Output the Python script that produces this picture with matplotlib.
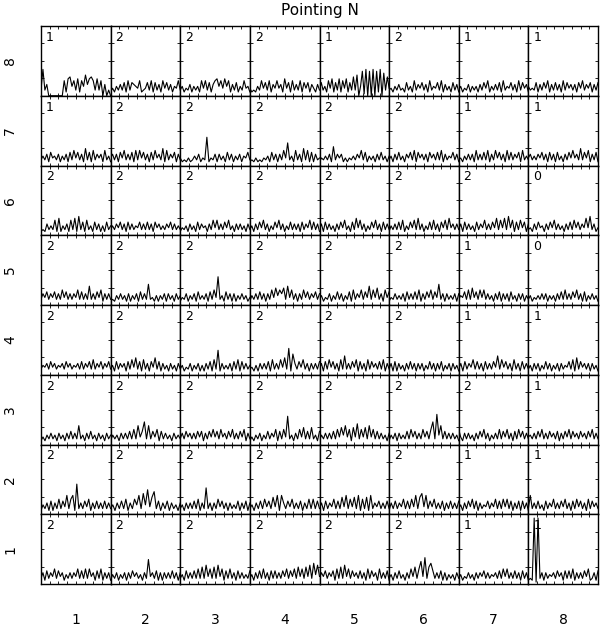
import numpy as np
import matplotlib
matplotlib.use("Agg")
import matplotlib.pyplot as plt

# spectrum heights per cell, one base-36 char per channel (rows listed top = 8 to bottom = 1)
row8 = ["3e3600000000829a5839285b69a8393806030",
        "2425363728376548234738273628473625483",
        "3524362535284837268958495826372538452",
        "4232538473826484629472836382747264263",
        "3735284927392849273a3b05d1e0d0e0d2e0c3a4",
        "3425363427352836473628354738263527362",
        "3524362535263748253637283547362837462",
        "5343726374826373628374636274836472637"]
row7 = ["3536274536253627384736293728364628352",
        "4636274836372838473627384639283647263",
        "4232423536243f243626352736253625473",
        "2324232435273626384c3528362938272634",
        "2435362a3646242435364837253526373525",
        "3526373526473827463627463738263547362",
        "3425363628363738263847362837364728353",
        "4635364736273627352637484639374826372"]
row6 = ["2326353829253628392a3728352736252735",
        "3536473627363547363736274635364736353",
        "2435263527364526384836374835263635263",
        "3526374836253748362537363627364837362",
        "3627363526374835273948362537483627363",
        "2536373825374839362537383627483946363",
        "3627363527364836374938493a4827384726",
        "3426374526374836352637384736494a3624"]
row5 = ["3647364736384736364837363a36374826363",
        "2325363526253627363b3425253626352635",
        "2436253627353627384f3527362625363524",
        "2536373626384958693a4836263847364736",
        "3524362537362537283648374a3849362847",
        "2436353627363738263748374b3626353626",
        "3547383947384836352637263627352636253",
        "3524353636253526373836374836272536352"]
row4 = ["3546374635463746354637364738364736473",
        "3527364627384937283627493726352635263",
        "3524362536252637283d2635362738273635",
        "3425263637283638493e2b6374836263637",
        "3627384736283a36374827362837463738263",
        "3627263526373626362537362637253626352",
        "3627364837362736374a384736283627363",
        "3526362537362536263547382937463626352"]
row3 = ["2425363526352637363a3526373526352635",
        "2535263637383a47c3a374827363526353",
        "3637463637472637484738463748363748263",
        "2425362537364827384f3526384937393527",
        "2536363738495a48294b38493a4837363526",
        "2536263537384736384738c3g5a373636352",
        "8426363526374836253638374836273847363",
        "4536374836374637263748374637463748363"]
row2 = ["2536272638374a38a2g36374826373637363",
        "3526373826385a3b5d49c372637263526",
        "3526363738263e3626384736263537263726",
        "3526373847394a2a637483637263838373",
        "3627364837394a38493a28392a364736373",
        "2637364837384a39b4a3748363726373637",
        "3526374837263547364837384837263727362",
        "3a36373527364836374836273847362837463"]
row1 = ["3627364837462536364837383846273826362",
        "2536253626374635263d4637262636373626",
        "3527363738393a48393a4827383627363537",
        "3526373836273736374837483948394a3b5a4",
        "3647364728393a48374637362837462836372",
        "3526373526384938c4e39b73637262535263",
        "3524363526364736354637384836373627362",
        "232z1z3626354637462737382636374823627"]
spectra = [row8, row7, row6, row5, row4, row3, row2, row1]

counts = [[1, 2, 2, 2, 1, 2, 1, 1],
          [1, 2, 2, 2, 2, 2, 1, 1],
          [2, 2, 2, 2, 2, 2, 2, 0],
          [2, 2, 2, 2, 2, 2, 1, 0],
          [2, 2, 2, 2, 2, 2, 1, 1],
          [2, 2, 2, 2, 2, 2, 2, 1],
          [2, 2, 2, 2, 2, 2, 1, 1],
          [2, 2, 2, 2, 2, 2, 1, 1]]

row_labels = ["8", "7", "6", "5", "4", "3", "2", "1"]
col_labels = ["1", "2", "3", "4", "5", "6", "7", "8"]
title = "Pointing N"

unit = 0.027

fig, axes = plt.subplots(8, 8, figsize=(6.0, 6.3), dpi=100)
fig.subplots_adjust(left=41/600, right=598/600, top=1-26/630, bottom=1-584/630,
                    wspace=0, hspace=0)

for r in range(8):
    for c in range(8):
        ax = axes[r, c]
        s = spectra[r][c]
        y = np.array([int(ch, 36) for ch in s]) * unit
        x = np.linspace(0, 1, len(y))
        ax.plot(x, y, color="black", lw=0.8)
        ax.set_xlim(0, 1)
        ax.set_ylim(0, 1)
        ax.set_xticks(np.arange(1, 8) / 8)
        ax.set_yticks([0.25, 0.5, 0.75])
        ax.tick_params(direction="in", length=2, width=0.6, top=True, right=True,
                       labelbottom=False, labelleft=False)
        for sp in ax.spines.values():
            sp.set_linewidth(1.0)
        ax.text(0.07, 0.93, str(counts[r][c]), transform=ax.transAxes,
                ha="left", va="top", fontsize=9, family="DejaVu Sans")
        if r == 7:
            ax.text(0.5, -0.52, col_labels[c], transform=ax.transAxes,
                    ha="center", va="center", fontsize=10)
        if c == 0:
            ax.text(-0.44, 0.5, row_labels[r], transform=ax.transAxes,
                    ha="center", va="center", fontsize=10, rotation=90)

fig.text(320/600, 1-11/630, title, ha="center", va="center", fontsize=11)

fig.savefig("out.png", dpi=100)
